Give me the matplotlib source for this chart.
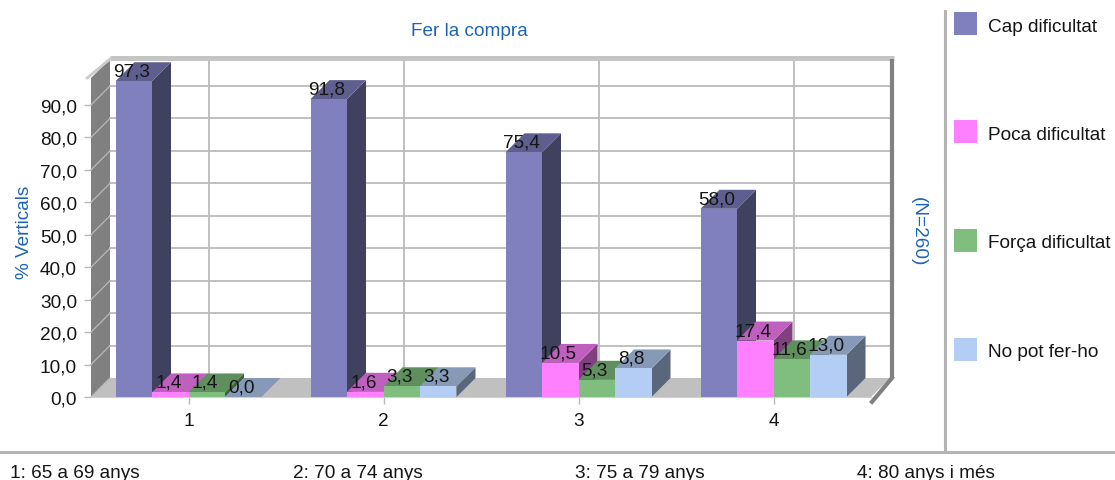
import matplotlib
matplotlib.use("Agg")
import matplotlib.pyplot as plt
from matplotlib.patches import Polygon, Rectangle
from matplotlib.lines import Line2D

plt.rcParams['font.family'] = ['Liberation Sans', 'DejaVu Sans']

categories = ['1', '2', '3', '4']
series_names = ['Cap dificultat', 'Poca dificultat', 'Força dificultat', 'No pot fer-ho']
cap = [97.3, 91.8, 75.4, 58.0]
poca = [1.4, 1.6, 10.5, 17.4]
forca = [1.4, 3.3, 5.3, 11.6]
nopot = [0.0, 3.3, 8.8, 13.0]
yticks = [0, 10, 20, 30, 40, 50, 60, 70, 80, 90]
footer = ['1: 65 a 69 anys', '2: 70 a 74 anys', '3: 75 a 79 anys', '4: 80 anys i més']
title = 'Fer la compra'
ylabel = '% Verticals'
rlabel = '(N=260)'

front = ['#8080BE', '#FF80FF', '#80BE80', '#B3CDF5']
topc = ['#5F5F8F', '#BF60BF', '#5F8F5F', '#869AB8']
side = ['#40405F', '#804080', '#406040', '#5A677B']
BLUE = '#1F64B4'
TXT = '#151515'
GRID = '#BBBBBB'
FS = 13.7

W, H = 1115, 481
fig = plt.figure(figsize=(W / 100, H / 100), dpi=100, facecolor='white')

PX_Y = 3.245
L, R, B, T = 91, 871, 398, 79
ax = fig.add_axes([L / W, 1 - B / H, (R - L) / W, (B - T) / H])
ax.set_xlim(-0.5, 3.5)
ax.set_ylim(0, (B - T) / PX_Y)
ax.patch.set_visible(False)
for s in ax.spines.values():
    s.set_visible(False)

PX_X = (R - L) / 4
dx, dy = 19 / PX_X, 19 / PX_Y
bw = 36.5 / PX_X
ytop = ax.get_ylim()[1]
x0, x1 = -0.5, 3.5
clip = dict(clip_on=False)

# left wall, floor
ax.add_patch(Polygon([(x0, 0), (x0 + dx, dy), (x0 + dx, ytop + dy), (x0, ytop)],
                     fc='#808080', ec='none', zorder=1, **clip))
ax.add_patch(Polygon([(x0, 0), (x0 + dx, dy), (x1 + dx, dy), (x1, 0)],
                     fc='#C0C0C0', ec='none', zorder=1, **clip))
# grid on back wall
for v in yticks[1:]:
    ax.plot([x0 + dx, x1 + dx], [v + dy, v + dy], color=GRID, lw=1.3, zorder=2, **clip)
for i in range(len(categories)):
    ax.plot([i + dx + 0.008] * 2, [dy, ytop + dy], color=GRID, lw=1.3, zorder=2, **clip)
for v in yticks:
    ax.plot([x0, x0 + dx], [v, v + dy], color='#B8B8B8', lw=0.9, zorder=2, **clip)
# frame edges
ax.plot([x0 + dx, x1 + dx + 0.02], [ytop + dy + 0.2, ytop + dy + 0.2], color='#C4C4C4', lw=3.6, zorder=3,
        solid_capstyle='butt', **clip)
ax.plot([x0 - 0.02, x0 + dx], [ytop, ytop + dy], color='#CCCCCC', lw=2, zorder=3, **clip)
ax.plot([x1 + dx + 0.01] * 2, [dy, ytop + dy], color='#808080', lw=3, zorder=3,
        solid_capstyle='butt', **clip)
ax.plot([x1 + 0.005, x1 + dx + 0.01], [-1.5, dy], color='#808080', lw=3, zorder=3, **clip)
ax.plot([x0, x1], [0, 0], color='#D0D0D8', lw=0.8, zorder=3, **clip)

# bars
z = 4
values = [cap, poca, forca, nopot]
labels = []
for i in range(len(categories)):
    for k, vals in enumerate(values):
        v = vals[i]
        xl = i + (k - 2) * bw
        xr = xl + bw
        ax.add_patch(Polygon([(xr, 0), (xr + dx, dy), (xr + dx, v + dy), (xr, v)],
                             fc=side[k], ec='none', zorder=z, **clip))
        ax.add_patch(Polygon([(xl, v), (xr, v), (xr + dx, v + dy), (xl + dx, v + dy)],
                             fc=topc[k], ec='none', zorder=z, **clip))
        ax.bar(xl + bw / 2, v, width=bw, color=front[k], linewidth=0, zorder=z + 0.5, clip_on=False)
        labels.append((xl + bw / 2, v))
        z += 1

for (xc, v) in labels:
    txt = f'{v:.1f}'.replace('.', ',')
    ax.annotate(txt, (xc, v), xytext=(-2, 10), textcoords='offset pixels', ha='center', va='center',
                fontsize=FS, color=TXT, zorder=100, annotation_clip=False)

# axes ticks
ax.set_yticks(yticks)
ax.set_yticklabels([f'{v:.1f}'.replace('.', ',') for v in yticks])
ax.set_xticks(range(len(categories)))
ax.set_xticklabels(categories)
ax.tick_params(axis='y', length=5, width=1, color='#B8B8B8', labelsize=FS, labelcolor=TXT, pad=5)
ax.tick_params(axis='x', length=5, width=1, color='#B8B8B8', labelsize=FS, labelcolor=TXT, pad=6)


def fx(x):
    return x / W


def fy(y):
    return 1 - y / H


# outer text
fig.text(fx(469), fy(32), title, color=BLUE, fontsize=FS, ha='center', va='center')
fig.text(fx(25), fy(232), ylabel, color=BLUE, fontsize=FS, rotation=90, ha='center', va='center')
fig.text(fx(918), fy(232), rlabel, color=BLUE, fontsize=FS, rotation=270, ha='center', va='center')

# separators
fig.add_artist(Line2D([fx(945), fx(945)], [fy(12), fy(453)], color='#B4B4B4', lw=2.2))
fig.add_artist(Line2D([0, 1], [fy(453), fy(453)], color='#B4B4B4', lw=2.2))

# legend
legend_y = [24, 132, 241, 350]
for name, c, y in zip(series_names, front, legend_y):
    fig.add_artist(Rectangle((fx(954), fy(y + 11.5)), 23 / W, 23 / H, fc=c, ec='none',
                             transform=fig.transFigure))
    fig.text(fx(988), fy(y + 3), name, color=TXT, fontsize=FS, ha='left', va='center')

# footer
for s, x in zip(footer, [10, 293, 575, 857]):
    fig.text(fx(x), fy(474), s, color=TXT, fontsize=FS, ha='left', va='center')

fig.savefig('out.png', dpi=100)
